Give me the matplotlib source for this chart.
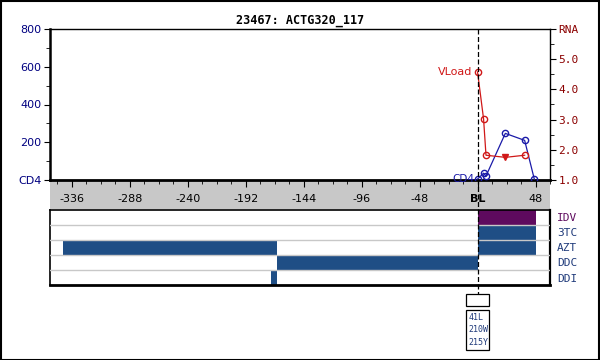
import matplotlib
matplotlib.use("Agg")
import matplotlib.pyplot as plt
import matplotlib.transforms as mtransforms
from matplotlib.lines import Line2D
from matplotlib.patches import Rectangle
from matplotlib.ticker import MultipleLocator

TITLE = "23467: ACTG320_117"

cd4_weeks = [0, 5, 7, 23, 39, 47]
cd4_vals = [5, 36, 21, 247, 210, 5]

rna_weeks = [0, 5, 7, 23, 39]
rna_vals = [4.58, 3.02, 1.82, 1.75, 1.82]
rna_below_limit = [False, False, False, True, False]

x_ticks = [-336, -288, -240, -192, -144, -96, -48, 0, 48]
x_labels = ["-336", "-288", "-240", "-192", "-144", "-96", "-48", "BL", "48"]

drugs = ["IDV", "3TC", "AZT", "DDC", "DDI"]
drug_segments = {
    "IDV": [(0, 48)],
    "3TC": [(0, 48)],
    "AZT": [(-343, -166), (0, 48)],
    "DDC": [(-166, 0)],
    "DDI": [(-171, -166)],
}
mutations = ["41L", "210W", "215Y"]

BLUE = "#1a1aa8"
RED = "#d01818"
NAVY = "#000080"
DARKRED = "#8b0000"
BAR_BLUE = "#1f4e85"
PURPLE = "#5e0a5e"

W, H = 600, 360
fig = plt.figure(figsize=(6, 3.6), dpi=100)
fig.patch.set_facecolor("white")


def fx(px):
    return px / W


def fy(py):
    return 1 - py / H


# main panel
ax = fig.add_axes([fx(50), fy(180), fx(500), 151 / H])
ax.set_xlim(-354, 60)
ax.set_ylim(0, 800)
ax.plot(cd4_weeks, cd4_vals, color=BLUE, lw=0.9, marker="o", ms=4.5,
        mfc="none", mec=BLUE, mew=1.0, zorder=3)
ax.text(cd4_weeks[0] - 3, cd4_vals[0], "CD4", color=BLUE, fontsize=7.5,
        ha="right", va="center")
ax.set_yticks([0, 200, 400, 600, 800])
ax.set_yticklabels(["CD4", "200", "400", "600", "800"], color=NAVY, fontsize=8)
ax.yaxis.set_minor_locator(MultipleLocator(100))
ax.set_xticks(x_ticks)
ax.set_xticklabels(x_labels, fontsize=8)
ax.xaxis.set_minor_locator(MultipleLocator(12))
ax.tick_params(axis="x", which="major", direction="out", length=5, pad=5)
ax.tick_params(axis="x", which="minor", direction="out", length=3)
ax.tick_params(axis="y", which="major", direction="out", length=4, pad=2)
ax.tick_params(axis="y", which="minor", direction="out", length=3)
for lbl in ax.get_xticklabels():
    if lbl.get_text() == "BL":
        lbl.set_fontweight("bold")
ax.spines["left"].set_linewidth(1.8)
ax.spines["bottom"].set_linewidth(2.0)
ax.spines["top"].set_linewidth(1.0)
ax.spines["right"].set_linewidth(1.0)
ax.set_title(TITLE, fontsize=8.5, fontweight="bold", family="DejaVu Sans Mono", pad=4)

ax2 = ax.twinx()
ax2.set_ylim(1, 6)
ax2.plot(rna_weeks, rna_vals, color=RED, lw=0.9, zorder=3)
for wk, v, low in zip(rna_weeks, rna_vals, rna_below_limit):
    if low:
        ax2.plot(wk, v, marker="v", ms=4.5, color=RED, zorder=4)
    else:
        ax2.plot(wk, v, marker="o", ms=4.5, mfc="none", mec=RED, mew=1.0, zorder=4)
ax2.text(rna_weeks[0] - 4, rna_vals[0], "VLoad", color=RED, fontsize=8,
         ha="right", va="center")
ax2.set_yticks([1, 2, 3, 4, 5, 6])
ax2.set_yticklabels(["1.0", "2.0", "3.0", "4.0", "5.0", "RNA"], color=DARKRED,
                    fontsize=8, family="DejaVu Sans Mono")
ax2.yaxis.set_minor_locator(MultipleLocator(0.5))
ax2.tick_params(axis="y", which="major", direction="out", length=4, pad=2)
ax2.tick_params(axis="y", which="minor", direction="out", length=3)
for s in ax2.spines.values():
    s.set_visible(False)

# gray band under the main panel
fig.add_artist(Rectangle((fx(50), fy(209)), fx(500), 29 / H, transform=fig.transFigure,
                         facecolor="#c8c8c8", edgecolor="none", zorder=-1))

# drug lanes
lax = fig.add_axes([fx(50), fy(285), fx(500), 75 / H])
lax.set_xlim(-354, 60)
lax.set_ylim(-0.5, len(drugs) - 0.5)
for i, drug in enumerate(drugs):
    row = len(drugs) - 1 - i
    color = PURPLE if drug == "IDV" else BAR_BLUE
    for start, end in drug_segments[drug]:
        lax.barh(row, end - start, left=start, height=1.0, color=color, zorder=2)
for r in range(len(drugs) - 1):
    lax.axhline(r + 0.5, color="#c8c8c8", lw=1.0, zorder=3)
lax.set_xticks([])
lax.yaxis.tick_right()
lax.set_yticks(range(len(drugs)))
lax.set_yticklabels(drugs[::-1], fontsize=8, family="DejaVu Sans Mono")
lax.tick_params(axis="y", length=0, pad=5)
for lbl in lax.get_yticklabels():
    lbl.set_color(PURPLE if lbl.get_text() == "IDV" else "#1f3a7a")
lax.spines["bottom"].set_linewidth(2.0)
lax.spines["right"].set_linewidth(1.6)
lax.spines["left"].set_linewidth(1.2)
lax.spines["top"].set_linewidth(1.2)

# baseline dashed line and mutation boxes
bt = mtransforms.blended_transform_factory(ax.transData, fig.transFigure)
fig.add_artist(Line2D([0, 0], [fy(29), fy(294)], transform=bt, color="black",
                      lw=0.9, ls=(0, (4, 2)), zorder=10))
half = 11.5 / 1.208
fig.add_artist(Rectangle((-half, fy(306)), 2 * half, 12 / H, transform=bt,
                         facecolor="white", edgecolor="black", lw=0.9))
fig.add_artist(Rectangle((-half, fy(350)), 2 * half, 40 / H, transform=bt,
                         facecolor="white", edgecolor="black", lw=0.9))
for k, mut in enumerate(mutations):
    fig.text(-half + 1.8, fy(317 + 12.7 * k), mut, transform=bt, fontsize=6,
             family="DejaVu Sans Mono", color="#1f3a7a", va="center", ha="left")

# outer frame
fig.add_artist(Rectangle((0.001, 0.001), 0.997, 0.996, transform=fig.transFigure,
                         facecolor="none", edgecolor="black", lw=1.5))

fig.savefig("out.png", dpi=100)
